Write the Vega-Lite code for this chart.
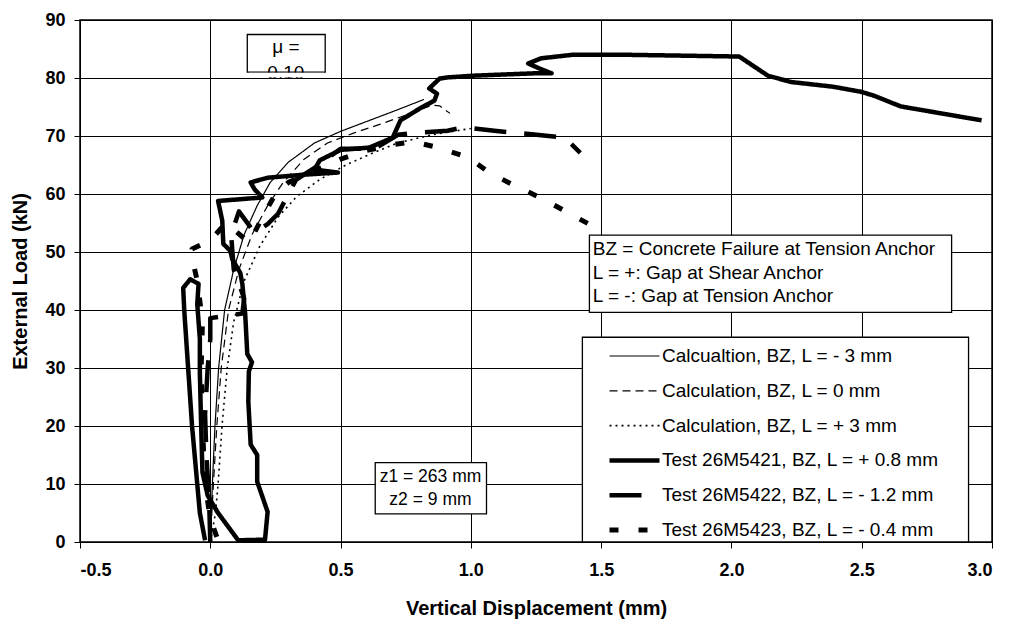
{
  "$schema": "https://vega.github.io/schema/vega-lite/v6.json",
  "width": 912,
  "height": 522,
  "autosize": {"type": "none"},
  "padding": {"left": 80, "top": 20, "right": 17, "bottom": 88},
  "background": "white",
  "config": {
    "font": "Liberation Sans",
    "view": {"stroke": "black", "strokeWidth": 1.5},
    "axis": {
      "domainColor": "black", "gridColor": "black", "gridOpacity": 1, "gridWidth": 1,
      "tickColor": "black", "tickSize": 6, "labelFont": "Liberation Sans", "labelFontWeight": "bold",
      "labelFontSize": 18, "labelColor": "black", "titleFont": "Liberation Sans", "titleFontWeight": "bold",
      "titleFontSize": 20, "titleColor": "black", "grid": true
    },
    "axisX": {"labelPadding": 13, "titlePadding": 19},
    "axisY": {"labelPadding": 9, "titlePadding": 14}
  },
  "datasets": {
    "lines": [
      {"s": "Calcualtion, BZ, L = - 3 mm", "i": 0, "x": 0.0, "y": 0},
      {"s": "Calcualtion, BZ, L = - 3 mm", "i": 1, "x": 0.008, "y": 10},
      {"s": "Calcualtion, BZ, L = - 3 mm", "i": 2, "x": 0.018, "y": 20},
      {"s": "Calcualtion, BZ, L = - 3 mm", "i": 3, "x": 0.032, "y": 30},
      {"s": "Calcualtion, BZ, L = - 3 mm", "i": 4, "x": 0.055, "y": 40},
      {"s": "Calcualtion, BZ, L = - 3 mm", "i": 5, "x": 0.09, "y": 47},
      {"s": "Calcualtion, BZ, L = - 3 mm", "i": 6, "x": 0.13, "y": 53},
      {"s": "Calcualtion, BZ, L = - 3 mm", "i": 7, "x": 0.18, "y": 58},
      {"s": "Calcualtion, BZ, L = - 3 mm", "i": 8, "x": 0.23, "y": 62},
      {"s": "Calcualtion, BZ, L = - 3 mm", "i": 9, "x": 0.3, "y": 65.5},
      {"s": "Calcualtion, BZ, L = - 3 mm", "i": 10, "x": 0.4, "y": 68.8},
      {"s": "Calcualtion, BZ, L = - 3 mm", "i": 11, "x": 0.5, "y": 70.8},
      {"s": "Calcualtion, BZ, L = - 3 mm", "i": 12, "x": 0.6, "y": 72.5},
      {"s": "Calcualtion, BZ, L = - 3 mm", "i": 13, "x": 0.7, "y": 74.2},
      {"s": "Calcualtion, BZ, L = - 3 mm", "i": 14, "x": 0.82, "y": 76.3},

      {"s": "Calculation, BZ, L = 0 mm", "i": 0, "x": 0.0, "y": 0},
      {"s": "Calculation, BZ, L = 0 mm", "i": 1, "x": 0.012, "y": 10},
      {"s": "Calculation, BZ, L = 0 mm", "i": 2, "x": 0.025, "y": 20},
      {"s": "Calculation, BZ, L = 0 mm", "i": 3, "x": 0.042, "y": 30},
      {"s": "Calculation, BZ, L = 0 mm", "i": 4, "x": 0.07, "y": 40},
      {"s": "Calculation, BZ, L = 0 mm", "i": 5, "x": 0.11, "y": 47},
      {"s": "Calculation, BZ, L = 0 mm", "i": 6, "x": 0.16, "y": 53},
      {"s": "Calculation, BZ, L = 0 mm", "i": 7, "x": 0.22, "y": 58},
      {"s": "Calculation, BZ, L = 0 mm", "i": 8, "x": 0.28, "y": 62},
      {"s": "Calculation, BZ, L = 0 mm", "i": 9, "x": 0.36, "y": 66},
      {"s": "Calculation, BZ, L = 0 mm", "i": 10, "x": 0.45, "y": 68.8},
      {"s": "Calculation, BZ, L = 0 mm", "i": 11, "x": 0.55, "y": 70.5},
      {"s": "Calculation, BZ, L = 0 mm", "i": 12, "x": 0.65, "y": 72},
      {"s": "Calculation, BZ, L = 0 mm", "i": 13, "x": 0.75, "y": 73.6},
      {"s": "Calculation, BZ, L = 0 mm", "i": 14, "x": 0.85, "y": 75.3},
      {"s": "Calculation, BZ, L = 0 mm", "i": 15, "x": 0.88, "y": 75.2},
      {"s": "Calculation, BZ, L = 0 mm", "i": 16, "x": 0.92, "y": 73.9},

      {"s": "Calculation, BZ, L = + 3 mm", "i": 0, "x": 0.0, "y": 0},
      {"s": "Calculation, BZ, L = + 3 mm", "i": 1, "x": 0.02, "y": 5},
      {"s": "Calculation, BZ, L = + 3 mm", "i": 2, "x": 0.03, "y": 10},
      {"s": "Calculation, BZ, L = + 3 mm", "i": 3, "x": 0.045, "y": 20},
      {"s": "Calculation, BZ, L = + 3 mm", "i": 4, "x": 0.065, "y": 30},
      {"s": "Calculation, BZ, L = + 3 mm", "i": 5, "x": 0.09, "y": 38},
      {"s": "Calculation, BZ, L = + 3 mm", "i": 6, "x": 0.13, "y": 45},
      {"s": "Calculation, BZ, L = + 3 mm", "i": 7, "x": 0.19, "y": 51},
      {"s": "Calculation, BZ, L = + 3 mm", "i": 8, "x": 0.26, "y": 56},
      {"s": "Calculation, BZ, L = + 3 mm", "i": 9, "x": 0.33, "y": 59.5},
      {"s": "Calculation, BZ, L = + 3 mm", "i": 10, "x": 0.42, "y": 62.5},
      {"s": "Calculation, BZ, L = + 3 mm", "i": 11, "x": 0.52, "y": 65},
      {"s": "Calculation, BZ, L = + 3 mm", "i": 12, "x": 0.62, "y": 67},
      {"s": "Calculation, BZ, L = + 3 mm", "i": 13, "x": 0.72, "y": 68.8},
      {"s": "Calculation, BZ, L = + 3 mm", "i": 14, "x": 0.85, "y": 70.2},
      {"s": "Calculation, BZ, L = + 3 mm", "i": 15, "x": 1.0, "y": 71.3},

      {"s": "Test 26M5421, BZ, L = + 0.8 mm", "i": 0, "x": -0.02, "y": 0.3},
      {"s": "Test 26M5421, BZ, L = + 0.8 mm", "i": 1, "x": -0.04, "y": 5},
      {"s": "Test 26M5421, BZ, L = + 0.8 mm", "i": 2, "x": -0.05, "y": 10},
      {"s": "Test 26M5421, BZ, L = + 0.8 mm", "i": 3, "x": -0.07, "y": 20},
      {"s": "Test 26M5421, BZ, L = + 0.8 mm", "i": 4, "x": -0.085, "y": 30},
      {"s": "Test 26M5421, BZ, L = + 0.8 mm", "i": 5, "x": -0.1, "y": 40},
      {"s": "Test 26M5421, BZ, L = + 0.8 mm", "i": 6, "x": -0.104, "y": 43.8},
      {"s": "Test 26M5421, BZ, L = + 0.8 mm", "i": 7, "x": -0.077, "y": 45.3},
      {"s": "Test 26M5421, BZ, L = + 0.8 mm", "i": 8, "x": -0.045, "y": 44.5},
      {"s": "Test 26M5421, BZ, L = + 0.8 mm", "i": 9, "x": -0.05, "y": 41},
      {"s": "Test 26M5421, BZ, L = + 0.8 mm", "i": 10, "x": -0.04, "y": 35},
      {"s": "Test 26M5421, BZ, L = + 0.8 mm", "i": 11, "x": -0.04, "y": 29},
      {"s": "Test 26M5421, BZ, L = + 0.8 mm", "i": 12, "x": -0.035, "y": 20},
      {"s": "Test 26M5421, BZ, L = + 0.8 mm", "i": 13, "x": -0.03, "y": 12},
      {"s": "Test 26M5421, BZ, L = + 0.8 mm", "i": 14, "x": -0.01, "y": 8},
      {"s": "Test 26M5421, BZ, L = + 0.8 mm", "i": 15, "x": 0.03, "y": 5},
      {"s": "Test 26M5421, BZ, L = + 0.8 mm", "i": 16, "x": 0.107, "y": 0.3},
      {"s": "Test 26M5421, BZ, L = + 0.8 mm", "i": 17, "x": 0.21, "y": 0.4},
      {"s": "Test 26M5421, BZ, L = + 0.8 mm", "i": 18, "x": 0.22, "y": 5.2},
      {"s": "Test 26M5421, BZ, L = + 0.8 mm", "i": 19, "x": 0.18, "y": 10.4},
      {"s": "Test 26M5421, BZ, L = + 0.8 mm", "i": 20, "x": 0.18, "y": 15},
      {"s": "Test 26M5421, BZ, L = + 0.8 mm", "i": 21, "x": 0.155, "y": 16.8},
      {"s": "Test 26M5421, BZ, L = + 0.8 mm", "i": 22, "x": 0.146, "y": 24.2},
      {"s": "Test 26M5421, BZ, L = + 0.8 mm", "i": 23, "x": 0.148, "y": 29.4},
      {"s": "Test 26M5421, BZ, L = + 0.8 mm", "i": 24, "x": 0.16, "y": 31},
      {"s": "Test 26M5421, BZ, L = + 0.8 mm", "i": 25, "x": 0.142, "y": 32.4},
      {"s": "Test 26M5421, BZ, L = + 0.8 mm", "i": 26, "x": 0.134, "y": 39.3},
      {"s": "Test 26M5421, BZ, L = + 0.8 mm", "i": 27, "x": 0.123, "y": 44.5},
      {"s": "Test 26M5421, BZ, L = + 0.8 mm", "i": 28, "x": 0.115, "y": 46.4},
      {"s": "Test 26M5421, BZ, L = + 0.8 mm", "i": 29, "x": 0.084, "y": 48.8},
      {"s": "Test 26M5421, BZ, L = + 0.8 mm", "i": 30, "x": 0.077, "y": 50.2},
      {"s": "Test 26M5421, BZ, L = + 0.8 mm", "i": 31, "x": 0.05, "y": 51.4},
      {"s": "Test 26M5421, BZ, L = + 0.8 mm", "i": 32, "x": 0.046, "y": 55.4},
      {"s": "Test 26M5421, BZ, L = + 0.8 mm", "i": 33, "x": 0.03, "y": 58.8},
      {"s": "Test 26M5421, BZ, L = + 0.8 mm", "i": 34, "x": 0.2, "y": 59.4},
      {"s": "Test 26M5421, BZ, L = + 0.8 mm", "i": 35, "x": 0.17, "y": 60.8},
      {"s": "Test 26M5421, BZ, L = + 0.8 mm", "i": 36, "x": 0.155, "y": 62},
      {"s": "Test 26M5421, BZ, L = + 0.8 mm", "i": 37, "x": 0.22, "y": 62.8},
      {"s": "Test 26M5421, BZ, L = + 0.8 mm", "i": 38, "x": 0.35, "y": 63.3},
      {"s": "Test 26M5421, BZ, L = + 0.8 mm", "i": 39, "x": 0.49, "y": 63.7},
      {"s": "Test 26M5421, BZ, L = + 0.8 mm", "i": 40, "x": 0.4, "y": 64.2},
      {"s": "Test 26M5421, BZ, L = + 0.8 mm", "i": 41, "x": 0.42, "y": 65.8},
      {"s": "Test 26M5421, BZ, L = + 0.8 mm", "i": 42, "x": 0.5, "y": 67.6},
      {"s": "Test 26M5421, BZ, L = + 0.8 mm", "i": 43, "x": 0.61, "y": 68},
      {"s": "Test 26M5421, BZ, L = + 0.8 mm", "i": 44, "x": 0.7, "y": 69.7},
      {"s": "Test 26M5421, BZ, L = + 0.8 mm", "i": 45, "x": 0.73, "y": 72.7},
      {"s": "Test 26M5421, BZ, L = + 0.8 mm", "i": 46, "x": 0.81, "y": 74.9},
      {"s": "Test 26M5421, BZ, L = + 0.8 mm", "i": 47, "x": 0.86, "y": 76.1},
      {"s": "Test 26M5421, BZ, L = + 0.8 mm", "i": 48, "x": 0.87, "y": 77.3},
      {"s": "Test 26M5421, BZ, L = + 0.8 mm", "i": 49, "x": 0.84, "y": 78.2},
      {"s": "Test 26M5421, BZ, L = + 0.8 mm", "i": 50, "x": 0.88, "y": 79.9},
      {"s": "Test 26M5421, BZ, L = + 0.8 mm", "i": 51, "x": 0.91, "y": 80.1},
      {"s": "Test 26M5421, BZ, L = + 0.8 mm", "i": 52, "x": 1.01, "y": 80.4},
      {"s": "Test 26M5421, BZ, L = + 0.8 mm", "i": 53, "x": 1.24, "y": 80.8},
      {"s": "Test 26M5421, BZ, L = + 0.8 mm", "i": 54, "x": 1.31, "y": 80.8},
      {"s": "Test 26M5421, BZ, L = + 0.8 mm", "i": 55, "x": 1.26, "y": 81.7},
      {"s": "Test 26M5421, BZ, L = + 0.8 mm", "i": 56, "x": 1.22, "y": 82.5},
      {"s": "Test 26M5421, BZ, L = + 0.8 mm", "i": 57, "x": 1.27, "y": 83.4},
      {"s": "Test 26M5421, BZ, L = + 0.8 mm", "i": 58, "x": 1.39, "y": 84.0},
      {"s": "Test 26M5421, BZ, L = + 0.8 mm", "i": 59, "x": 1.6, "y": 84.0},
      {"s": "Test 26M5421, BZ, L = + 0.8 mm", "i": 60, "x": 2.03, "y": 83.7},
      {"s": "Test 26M5421, BZ, L = + 0.8 mm", "i": 61, "x": 2.14, "y": 80.4},
      {"s": "Test 26M5421, BZ, L = + 0.8 mm", "i": 62, "x": 2.23, "y": 79.3},
      {"s": "Test 26M5421, BZ, L = + 0.8 mm", "i": 63, "x": 2.39, "y": 78.5},
      {"s": "Test 26M5421, BZ, L = + 0.8 mm", "i": 64, "x": 2.5, "y": 77.6},
      {"s": "Test 26M5421, BZ, L = + 0.8 mm", "i": 65, "x": 2.55, "y": 76.9},
      {"s": "Test 26M5421, BZ, L = + 0.8 mm", "i": 66, "x": 2.65, "y": 75.1},
      {"s": "Test 26M5421, BZ, L = + 0.8 mm", "i": 67, "x": 2.96, "y": 72.7},

      {"s": "Test 26M5422, BZ, L = - 1.2 mm", "i": 0, "x": 0.0, "y": 0},
      {"s": "Test 26M5422, BZ, L = - 1.2 mm", "i": 1, "x": -0.005, "y": 8},
      {"s": "Test 26M5422, BZ, L = - 1.2 mm", "i": 2, "x": -0.015, "y": 15},
      {"s": "Test 26M5422, BZ, L = - 1.2 mm", "i": 3, "x": -0.02, "y": 22},
      {"s": "Test 26M5422, BZ, L = - 1.2 mm", "i": 4, "x": -0.01, "y": 30},
      {"s": "Test 26M5422, BZ, L = - 1.2 mm", "i": 5, "x": 0.0, "y": 35},
      {"s": "Test 26M5422, BZ, L = - 1.2 mm", "i": 6, "x": 0.0, "y": 38.6},
      {"s": "Test 26M5422, BZ, L = - 1.2 mm", "i": 7, "x": 0.123, "y": 39.4},
      {"s": "Test 26M5422, BZ, L = - 1.2 mm", "i": 8, "x": 0.13, "y": 42},
      {"s": "Test 26M5422, BZ, L = - 1.2 mm", "i": 9, "x": 0.09, "y": 47},
      {"s": "Test 26M5422, BZ, L = - 1.2 mm", "i": 10, "x": 0.08, "y": 53},
      {"s": "Test 26M5422, BZ, L = - 1.2 mm", "i": 11, "x": 0.11, "y": 57},
      {"s": "Test 26M5422, BZ, L = - 1.2 mm", "i": 12, "x": 0.17, "y": 53.3},
      {"s": "Test 26M5422, BZ, L = - 1.2 mm", "i": 13, "x": 0.22, "y": 54.8},
      {"s": "Test 26M5422, BZ, L = - 1.2 mm", "i": 14, "x": 0.26, "y": 56.6},
      {"s": "Test 26M5422, BZ, L = - 1.2 mm", "i": 15, "x": 0.3, "y": 60},
      {"s": "Test 26M5422, BZ, L = - 1.2 mm", "i": 16, "x": 0.33, "y": 62.5},
      {"s": "Test 26M5422, BZ, L = - 1.2 mm", "i": 17, "x": 0.4, "y": 64.5},
      {"s": "Test 26M5422, BZ, L = - 1.2 mm", "i": 18, "x": 0.5, "y": 67.8},
      {"s": "Test 26M5422, BZ, L = - 1.2 mm", "i": 19, "x": 0.63, "y": 67.8},
      {"s": "Test 26M5422, BZ, L = - 1.2 mm", "i": 20, "x": 0.72, "y": 70.2},
      {"s": "Test 26M5422, BZ, L = - 1.2 mm", "i": 21, "x": 0.8, "y": 70.6},
      {"s": "Test 26M5422, BZ, L = - 1.2 mm", "i": 22, "x": 0.91, "y": 70.9},
      {"s": "Test 26M5422, BZ, L = - 1.2 mm", "i": 23, "x": 0.97, "y": 71.5},
      {"s": "Test 26M5422, BZ, L = - 1.2 mm", "i": 24, "x": 1.09, "y": 70.9},
      {"s": "Test 26M5422, BZ, L = - 1.2 mm", "i": 25, "x": 1.16, "y": 70.6},
      {"s": "Test 26M5422, BZ, L = - 1.2 mm", "i": 26, "x": 1.28, "y": 70.1},
      {"s": "Test 26M5422, BZ, L = - 1.2 mm", "i": 27, "x": 1.36, "y": 69.7},
      {"s": "Test 26M5422, BZ, L = - 1.2 mm", "i": 28, "x": 1.42, "y": 67.1},

      {"s": "Test 26M5423, BZ, L = - 0.4 mm", "i": 0, "x": 0.025, "y": 0.9},
      {"s": "Test 26M5423, BZ, L = - 0.4 mm", "i": 1, "x": 0.0, "y": 4},
      {"s": "Test 26M5423, BZ, L = - 0.4 mm", "i": 2, "x": -0.02, "y": 10},
      {"s": "Test 26M5423, BZ, L = - 0.4 mm", "i": 3, "x": -0.03, "y": 20},
      {"s": "Test 26M5423, BZ, L = - 0.4 mm", "i": 4, "x": -0.035, "y": 30},
      {"s": "Test 26M5423, BZ, L = - 0.4 mm", "i": 5, "x": -0.03, "y": 38},
      {"s": "Test 26M5423, BZ, L = - 0.4 mm", "i": 6, "x": -0.05, "y": 45},
      {"s": "Test 26M5423, BZ, L = - 0.4 mm", "i": 7, "x": -0.065, "y": 48},
      {"s": "Test 26M5423, BZ, L = - 0.4 mm", "i": 8, "x": -0.07, "y": 50.5},
      {"s": "Test 26M5423, BZ, L = - 0.4 mm", "i": 9, "x": 0.0, "y": 52},
      {"s": "Test 26M5423, BZ, L = - 0.4 mm", "i": 10, "x": 0.06, "y": 55},
      {"s": "Test 26M5423, BZ, L = - 0.4 mm", "i": 11, "x": 0.15, "y": 51.6},
      {"s": "Test 26M5423, BZ, L = - 0.4 mm", "i": 12, "x": 0.2, "y": 56},
      {"s": "Test 26M5423, BZ, L = - 0.4 mm", "i": 13, "x": 0.25, "y": 60},
      {"s": "Test 26M5423, BZ, L = - 0.4 mm", "i": 14, "x": 0.3, "y": 62},
      {"s": "Test 26M5423, BZ, L = - 0.4 mm", "i": 15, "x": 0.4, "y": 64},
      {"s": "Test 26M5423, BZ, L = - 0.4 mm", "i": 16, "x": 0.5, "y": 66},
      {"s": "Test 26M5423, BZ, L = - 0.4 mm", "i": 17, "x": 0.6, "y": 67.5},
      {"s": "Test 26M5423, BZ, L = - 0.4 mm", "i": 18, "x": 0.7, "y": 68.5},
      {"s": "Test 26M5423, BZ, L = - 0.4 mm", "i": 19, "x": 0.78, "y": 69},
      {"s": "Test 26M5423, BZ, L = - 0.4 mm", "i": 20, "x": 0.875, "y": 68},
      {"s": "Test 26M5423, BZ, L = - 0.4 mm", "i": 21, "x": 0.99, "y": 66.3},
      {"s": "Test 26M5423, BZ, L = - 0.4 mm", "i": 22, "x": 1.07, "y": 63.7},
      {"s": "Test 26M5423, BZ, L = - 0.4 mm", "i": 23, "x": 1.17, "y": 61.4},
      {"s": "Test 26M5423, BZ, L = - 0.4 mm", "i": 24, "x": 1.27, "y": 59.3},
      {"s": "Test 26M5423, BZ, L = - 0.4 mm", "i": 25, "x": 1.36, "y": 57.1},
      {"s": "Test 26M5423, BZ, L = - 0.4 mm", "i": 26, "x": 1.47, "y": 54.4}
    ],
    "boxes": [
      {"x": 0.142, "x2": 0.441, "y": 81.0, "y2": 87.5},
      {"x": 1.455, "x2": 2.845, "y": 39.6, "y2": 52.9},
      {"x": 0.633, "x2": 1.06, "y": 4.84, "y2": 13.7},
      {"x": 1.428, "x2": 2.91, "y": 0, "y2": 35.3}
    ],
    "mask": [
      {"x": 0.148, "x2": 0.436, "y": 80.15, "y2": 80.9}
    ],
    "muText": [
      {"x": 0.29, "y": 85.3, "t": "μ ="},
      {"x": 0.29, "y": 80.9, "t": "0.10"}
    ],
    "zText": [
      {"x": 0.845, "y": 11.25, "t": "z1 = 263 mm"},
      {"x": 0.845, "y": 7.27, "t": "z2 = 9 mm"}
    ],
    "leftText": [
      {"x": 1.468, "y": 50.5, "t": "BZ = Concrete Failure at Tension Anchor"},
      {"x": 1.468, "y": 46.4, "t": "L = +: Gap at Shear Anchor"},
      {"x": 1.468, "y": 42.4, "t": "L = -: Gap at Tension Anchor"}
    ]
  },
  "layer": [
    {
      "data": {"name": "lines"},
      "mark": {"type": "line", "color": "black", "strokeJoin": "round", "strokeCap": "butt"},
      "encoding": {
        "x": {"field": "x", "type": "quantitative", "scale": {"domain": [-0.5, 3], "nice": false, "zero": false},
              "axis": {"values": [-0.5, 0, 0.5, 1, 1.5, 2, 2.5, 3], "labelExpr": "datum.value < 0 ? '-' + format(-datum.value, '.1f') : format(datum.value, '.1f')", "title": "Vertical Displacement (mm)"}},
        "y": {"field": "y", "type": "quantitative", "scale": {"domain": [0, 90], "nice": false},
              "axis": {"values": [0, 10, 20, 30, 40, 50, 60, 70, 80, 90], "title": "External Load (kN)"}},
        "order": {"field": "i", "type": "quantitative"},
        "strokeDash": {"field": "s", "type": "nominal",
          "scale": {"domain": ["Calcualtion, BZ, L = - 3 mm", "Calculation, BZ, L = 0 mm", "Calculation, BZ, L = + 3 mm", "Test 26M5421, BZ, L = + 0.8 mm", "Test 26M5422, BZ, L = - 1.2 mm", "Test 26M5423, BZ, L = - 0.4 mm"],
                    "range": [[1, 0], [8, 5], [2, 4], [1, 0], [32, 18], [9, 20]]},
          "legend": {"orient": "none", "legendX": 527, "legendY": 324, "title": null, "symbolType": "stroke", "symbolSize": 2500,
                     "symbolStrokeColor": "black", "labelFont": "Liberation Sans", "labelFontSize": 19, "labelColor": "black",
                     "labelOffset": 0, "clipHeight": 24, "rowPadding": 10.8, "padding": 0, "labelLimit": 400}},
        "strokeWidth": {"field": "s", "type": "nominal",
          "scale": {"type": "ordinal", "domain": ["Calcualtion, BZ, L = - 3 mm", "Calculation, BZ, L = 0 mm", "Calculation, BZ, L = + 3 mm", "Test 26M5421, BZ, L = + 0.8 mm", "Test 26M5422, BZ, L = - 1.2 mm", "Test 26M5423, BZ, L = - 0.4 mm"],
                    "range": [1.2, 1.2, 1.6, 4.5, 4.5, 5]},
          "legend": {"orient": "none", "legendX": 527, "legendY": 324, "title": null, "symbolType": "stroke", "symbolSize": 2500,
                     "symbolStrokeColor": "black", "labelFont": "Liberation Sans", "labelFontSize": 19, "labelColor": "black",
                     "labelOffset": 0, "clipHeight": 24, "rowPadding": 10.8, "padding": 0, "labelLimit": 400}}
      }
    },
    {
      "data": {"name": "boxes"},
      "mark": {"type": "rect", "fill": "white", "stroke": "black", "strokeWidth": 1.3},
      "encoding": {
        "x": {"field": "x", "type": "quantitative"},
        "x2": {"field": "x2"},
        "y": {"field": "y", "type": "quantitative"},
        "y2": {"field": "y2"}
      }
    },
    {
      "data": {"name": "muText"},
      "mark": {"type": "text", "align": "center", "baseline": "middle", "font": "Liberation Sans", "fontSize": 19, "color": "black"},
      "encoding": {
        "x": {"field": "x", "type": "quantitative"},
        "y": {"field": "y", "type": "quantitative"},
        "text": {"field": "t"}
      }
    },
    {
      "data": {"name": "zText"},
      "mark": {"type": "text", "align": "center", "baseline": "middle", "font": "Liberation Sans", "fontSize": 17.5, "color": "black"},
      "encoding": {
        "x": {"field": "x", "type": "quantitative"},
        "y": {"field": "y", "type": "quantitative"},
        "text": {"field": "t"}
      }
    },
    {
      "data": {"name": "leftText"},
      "mark": {"type": "text", "align": "left", "baseline": "middle", "font": "Liberation Sans", "fontSize": 19, "color": "black"},
      "encoding": {
        "x": {"field": "x", "type": "quantitative"},
        "y": {"field": "y", "type": "quantitative"},
        "text": {"field": "t"}
      }
    },
    {
      "data": {"name": "mask"},
      "mark": {"type": "rect", "fill": "white", "strokeWidth": 0},
      "encoding": {
        "x": {"field": "x", "type": "quantitative"},
        "x2": {"field": "x2"},
        "y": {"field": "y", "type": "quantitative"},
        "y2": {"field": "y2"}
      }
    }
  ]
}
